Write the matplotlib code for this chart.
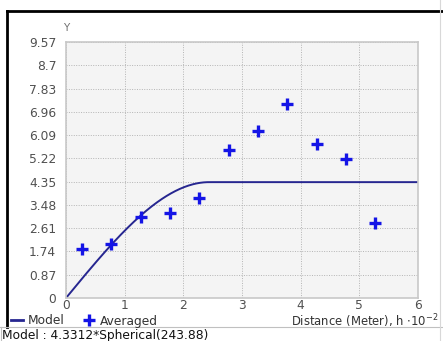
import numpy as np
import matplotlib.pyplot as plt
from matplotlib.lines import Line2D

# averaged semivariogram points (distance in 10^2 m)
dist = [0.27, 0.77, 1.28, 1.78, 2.27, 2.77, 3.28, 3.77, 4.28, 4.78, 5.27]
gamma = [1.83, 2.02, 3.02, 3.17, 3.73, 5.53, 6.24, 7.24, 5.75, 5.19, 2.79]

# fitted model from the status text
sill = 4.3312
model_range = 243.88 / 100.0

y_ticks = [0, 0.87, 1.74, 2.61, 3.48, 4.35, 5.22, 6.09, 6.96, 7.83, 8.7, 9.57]
y_labels = ['0', '0.87', '1.74', '2.61', '3.48', '4.35', '5.22', '6.09', '6.96', '7.83', '8.7', '9.57']
x_ticks = [0, 1, 2, 3, 4, 5, 6]


def spherical(h, c, a):
    r = np.minimum(h / a, 1.0)
    return c * (1.5 * r - 0.5 * r ** 3)


W, H = 443, 341
fs = 8.8
fig = plt.figure(figsize=(W / 100, H / 100), dpi=100)
fig.patch.set_facecolor('white')

ax = fig.add_axes([66 / W, (H - 298) / H, 352 / W, 256 / H])
ax.set_facecolor('#f4f4f4')

h = np.linspace(0, 6, 400)
ax.plot(h, spherical(h, sill, model_range), color='#262690', lw=1.4, label='Model')
ax.plot(dist, gamma, ls='none', marker='+', ms=8, mew=2.4, color='#1414e6', label='Averaged')

ax.set_xlim(0, 6)
ax.set_ylim(0, 9.57)
ax.set_xticks(x_ticks)
ax.set_yticks(y_ticks)
ax.set_yticklabels(y_labels)
ax.tick_params(length=0, labelsize=fs, colors='#505050')
ax.tick_params(axis='y', pad=7)
ax.tick_params(axis='x', pad=1)
ax.grid(True, ls=(0, (1, 1.5)), color='#b4b4b4', lw=0.7)
for s in ax.spines.values():
    s.set_color('#c8c8c8')
    s.set_linewidth(1.2)

fig.text(66 / W, 1 - 28 / H, 'Y', fontsize=7.5, color='#707070', ha='center', va='center')

handles = [Line2D([], [], color='#262690', lw=2),
           Line2D([], [], ls='none', marker='+', ms=8, mew=2.4, color='#1414e6')]
fig.legend(handles, ['Model', 'Averaged'], loc='center left',
           bbox_to_anchor=(11 / W, 1 - 321 / H), ncol=2, frameon=False,
           fontsize=fs, handlelength=1.0, handletextpad=0.4, columnspacing=1.5,
           borderpad=0, borderaxespad=0, labelcolor='#333333')

fig.text(438 / W, 1 - 326 / H, 'Distance (Meter), h $\\cdot$10$^{-2}$', fontsize=8.4,
         color='#333333', ha='right', va='baseline')

fig.text(2 / W, 1 - 335 / H, 'Model : 4.3312*Spherical(243.88)', fontsize=fs,
         color='#111111', ha='left', va='center')

# window frame
fig.add_artist(Line2D([7 / W, 1], [1 - 11 / H, 1 - 11 / H], color='black', lw=2, transform=fig.transFigure))
fig.add_artist(Line2D([7 / W, 7 / W], [1 - 11 / H, 1 - 327 / H], color='black', lw=2, transform=fig.transFigure))
fig.add_artist(Line2D([0, 1], [1 - 327 / H, 1 - 327 / H], color='#c0c0c0', lw=0.8, transform=fig.transFigure))
fig.add_artist(Line2D([440 / W, 440 / W], [0, 1], color='#d8d8d8', lw=0.8, transform=fig.transFigure))
fig.add_artist(Line2D([1 / W, 1 / W], [0, 1 - 327 / H], color='#c0c0c0', lw=0.8, transform=fig.transFigure))

fig.savefig('out.png', dpi=100)
